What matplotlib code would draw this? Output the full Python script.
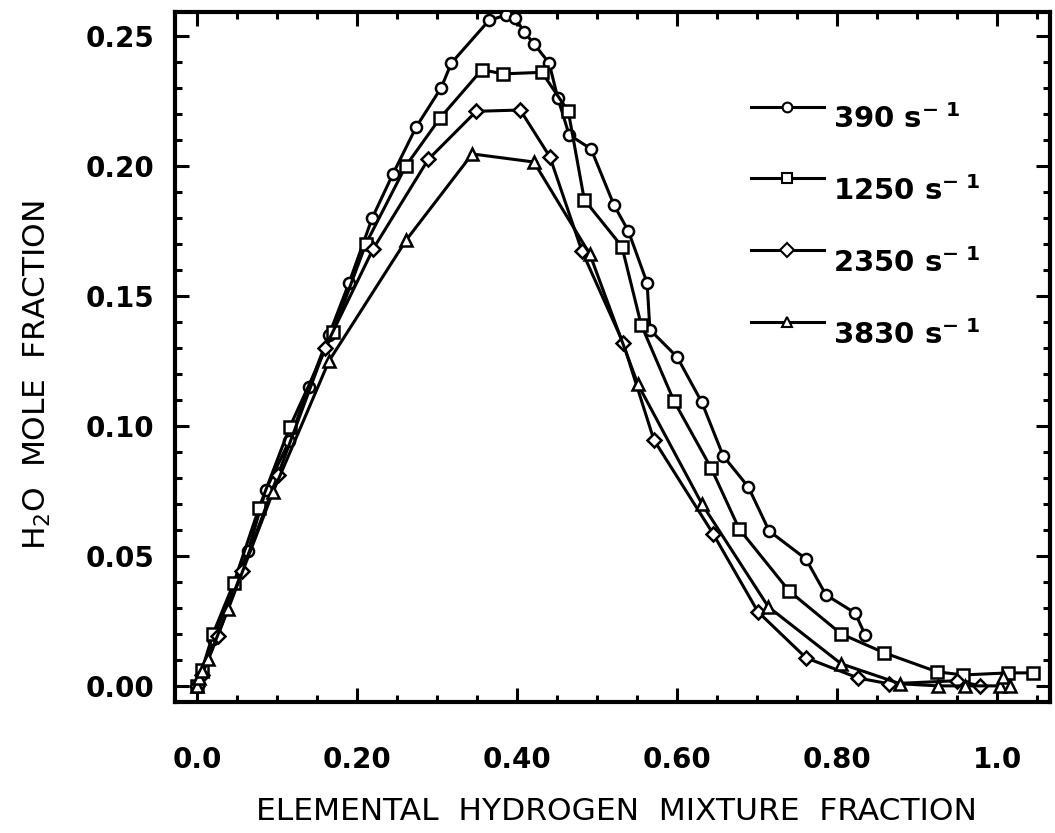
import matplotlib
matplotlib.use("Agg")
import matplotlib.pyplot as plt
from matplotlib.ticker import MultipleLocator, FixedLocator
from matplotlib.legend_handler import HandlerLine2D

# ---- data ----
x_390 = [0.0, 0.02, 0.064, 0.086, 0.115, 0.14, 0.165, 0.19, 0.219, 0.245, 0.274, 0.305, 0.318,
         0.365, 0.386, 0.3975, 0.409, 0.421, 0.44, 0.451, 0.465, 0.4925, 0.521, 0.539, 0.5625,
         0.566, 0.60, 0.631, 0.6575, 0.689, 0.715, 0.761, 0.786, 0.8225, 0.835]
y_390 = [0.0, 0.018, 0.052, 0.0754, 0.094, 0.115, 0.135, 0.155, 0.180, 0.197, 0.215, 0.230, 0.2396,
         0.256, 0.258, 0.257, 0.2515, 0.247, 0.2396, 0.226, 0.212, 0.2065, 0.185, 0.175, 0.155,
         0.137, 0.1265, 0.109, 0.0885, 0.0765, 0.0596, 0.0488, 0.035, 0.028, 0.0196]

x_1250 = [0.0, 0.006, 0.02, 0.046, 0.0775, 0.116, 0.17, 0.211, 0.261, 0.304, 0.356, 0.3825, 0.431,
          0.464, 0.484, 0.531, 0.555, 0.596, 0.6425, 0.6775, 0.74, 0.805, 0.859, 0.925, 0.9575,
          1.014, 1.045]
y_1250 = [0.0, 0.006, 0.020, 0.0396, 0.0685, 0.0996, 0.136, 0.170, 0.200, 0.2185, 0.237, 0.2354, 0.236,
          0.221, 0.187, 0.169, 0.139, 0.1096, 0.0838, 0.0604, 0.0365, 0.020, 0.0127, 0.0054, 0.0042,
          0.005, 0.005]

x_2350 = [0.0, 0.006, 0.026, 0.056, 0.101, 0.16, 0.22, 0.289, 0.349, 0.404, 0.441, 0.481, 0.5325,
          0.571, 0.645, 0.701, 0.761, 0.8265, 0.865, 0.95, 0.979]
y_2350 = [0.0, 0.004, 0.0192, 0.044, 0.081, 0.130, 0.168, 0.2025, 0.221, 0.2215, 0.2035, 0.1673, 0.132,
          0.0946, 0.0585, 0.0285, 0.0108, 0.003, 0.0008, 0.002, 0.0]

x_3830 = [0.0, 0.0025, 0.006, 0.014, 0.039, 0.095, 0.165, 0.2615, 0.344, 0.421, 0.491, 0.551, 0.631,
          0.714, 0.805, 0.879, 0.926, 0.96, 1.004, 1.0075, 1.016]
y_3830 = [0.0, 0.003, 0.0058, 0.0104, 0.0296, 0.0746, 0.125, 0.1715, 0.2046, 0.2015, 0.166, 0.116, 0.070,
          0.0304, 0.0085, 0.0008, 0.0, 0.0, 0.0, 0.0035, 0.0]

labels = [r"390 s$^{\mathregular{-\ 1}}$", r"1250 s$^{\mathregular{-\ 1}}$",
          r"2350 s$^{\mathregular{-\ 1}}$", r"3830 s$^{\mathregular{-\ 1}}$"]
x_ticks = [0.0, 0.2, 0.4, 0.6, 0.8, 1.0]
x_ticklabels = ["0.0", "0.20", "0.40", "0.60", "0.80", "1.0"]
y_ticks = [0.0, 0.05, 0.10, 0.15, 0.20, 0.25]
y_ticklabels = ["0.00", "0.05", "0.10", "0.15", "0.20", "0.25"]

W, H = 1055, 833
AX_L, AX_R, AX_T, AX_B = 175, 1050, 12, 702

# ---- figure ----
fig = plt.figure(figsize=(W / 100, H / 100), dpi=100)
ax = fig.add_axes([AX_L / W, 1 - AX_B / H, (AX_R - AX_L) / W, (AX_B - AX_T) / H])

series = [(x_390, y_390, "o", 8), (x_1250, y_1250, "s", 8.5),
          (x_2350, y_2350, "D", 7), (x_3830, y_3830, "^", 9)]
handles = []
for (xs, ys, m, ms), lab in zip(series, labels):
    h, = ax.plot(xs, ys, color="black", lw=2.2, marker=m, ms=ms, mfc="white",
                 mec="black", mew=1.8, label=lab, zorder=3)
    handles.append(h)

ax.set_xlim(-0.0275, 1.066)
ax.set_ylim(-0.0062, 0.2592)

ax.xaxis.set_major_locator(FixedLocator(x_ticks))
ax.set_xticklabels(x_ticklabels)
ax.xaxis.set_minor_locator(MultipleLocator(0.05))
ax.yaxis.set_major_locator(FixedLocator(y_ticks))
ax.set_yticklabels(y_ticklabels)
ax.yaxis.set_minor_locator(MultipleLocator(0.01))

ax.tick_params(which="both", direction="in", top=True, right=True, width=2.2, color="black")
ax.tick_params(which="major", length=10, labelsize=20)
ax.tick_params(which="minor", length=5)
ax.tick_params(axis="x", which="major", pad=32)
ax.tick_params(axis="y", which="major", pad=15)
for lab in ax.get_xticklabels() + ax.get_yticklabels():
    lab.set_fontfamily("DejaVu Sans")
    lab.set_fontweight("bold")
for s in ax.spines.values():
    s.set_linewidth(3)

ax.set_xlabel("ELEMENTAL  HYDROGEN  MIXTURE  FRACTION", fontsize=22.5, family="DejaVu Sans",
              va="top")
ax.xaxis.set_label_coords((616 - AX_L) / (AX_R - AX_L), -(797 - AX_B) / (AX_B - AX_T))
ax.set_ylabel(r"H$_{\mathregular{2}}$O  MOLE  FRACTION", fontsize=22.5, family="DejaVu Sans")
ax.yaxis.set_label_coords(-(AX_L - 53) / (AX_R - AX_L), 1 - (375 - AX_T) / (AX_B - AX_T))


class RaisedLine(HandlerLine2D):
    def create_artists(self, legend, orig_handle, xdescent, ydescent, width, height,
                       fontsize, trans):
        return super().create_artists(legend, orig_handle, xdescent, ydescent - 16,
                                      width, height, fontsize, trans)


leg_handles = [plt.Line2D([], [], color="black", lw=2.2, marker=h.get_marker(), ms=7,
                          mfc="white", mec="black", mew=1.5) for h in handles]
leg = ax.legend(handles=leg_handles, labels=labels,
                handler_map={lh: RaisedLine() for lh in leg_handles},
                loc="upper left",
                bbox_to_anchor=((751 - AX_L) / (AX_R - AX_L), 1 - (104 - AX_T) / (AX_B - AX_T)),
                frameon=False, prop={"family": "DejaVu Sans", "weight": "bold", "size": 21},
                handlelength=2.5, handletextpad=0.3, labelspacing=1.44,
                borderaxespad=0, borderpad=0)

fig.savefig("out.png", dpi=100, facecolor="white")
